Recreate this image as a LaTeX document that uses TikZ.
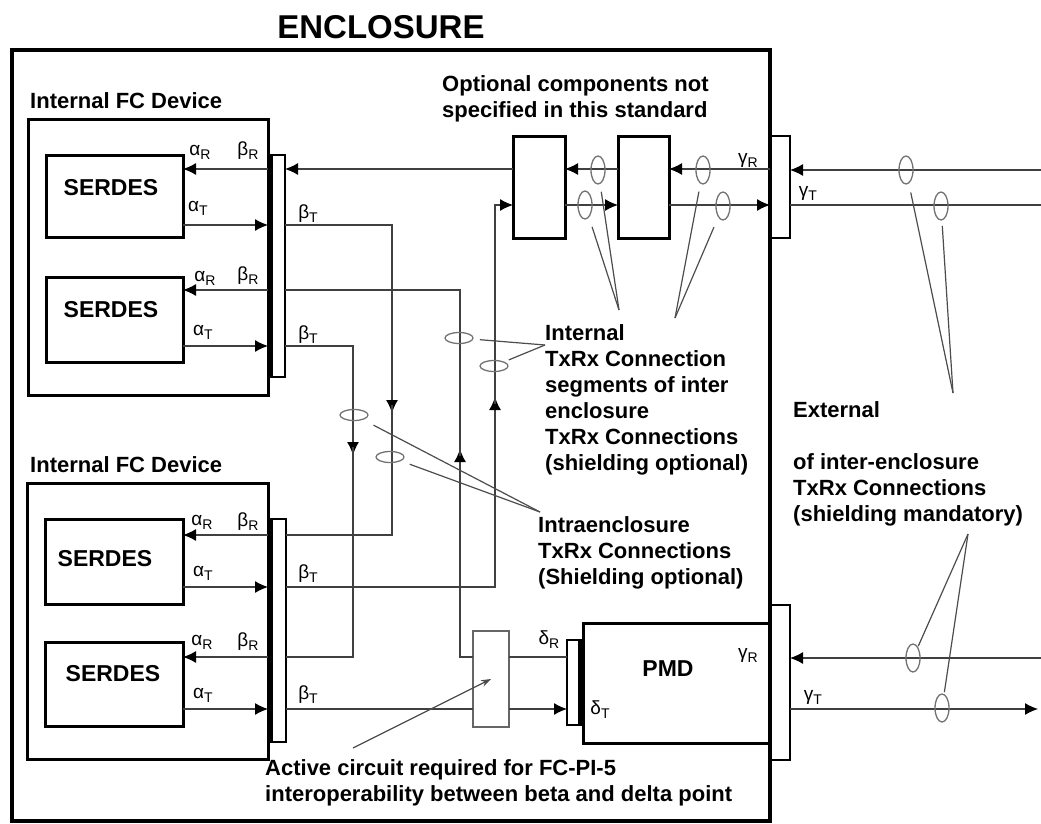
\documentclass[tikz,border=0pt]{standalone}
\usepackage{fontspec}
\setmainfont{Liberation Sans}
\usetikzlibrary{arrows.meta,shapes.geometric}

\tikzset{
  blk/.style={draw, line width=3pt, fill=white, inner sep=0pt, outer sep=0pt, anchor=north west},
  bar/.style={draw, line width=2pt, fill=white, inner sep=0pt, outer sep=0pt, anchor=north west},
  wire/.style={draw=black!75, line width=1.2pt},
  ovh/.style={draw=black!55, line width=1.3pt, ellipse, minimum width=28pt, minimum height=11pt, inner sep=0pt},
  ovv/.style={draw=black!55, line width=1.3pt, ellipse, minimum width=14pt, minimum height=28pt, inner sep=0pt},
  ptr/.style={draw=black!70, line width=1.2pt},
  lbl/.style={font=\bfseries\fontsize{22}{26}\selectfont, align=left, anchor=west, inner sep=0pt},
  boxtxt/.style={font=\bfseries\fontsize{23}{23}\selectfont, inner sep=0pt},
  sig/.style={font=\fontsize{19}{19}\selectfont, inner sep=0pt},
}
\newcommand{\sg}[2]{#1\raisebox{-4pt}{\fontsize{14}{14}\selectfont #2}}

\begin{document}
\begin{tikzpicture}[x=1pt,y=-1pt,>={Latex[length=13pt,width=12pt,black]}]
  \useasboundingbox (0,0) rectangle (1041,824);
  \node[font=\bfseries\fontsize{33}{33}\selectfont] (title) at (381,27) {ENCLOSURE};

  % devices and their blocks
  \node[blk, minimum width=240pt, minimum height=275pt] (dev1) at (28,120) {};
  \node[blk, minimum width=241pt, minimum height=276pt] (dev2) at (27,483) {};
  \node[blk, minimum width=137pt, minimum height=82pt] (ser11) at (46,155) {};
  \node[blk, minimum width=137pt, minimum height=85pt] (ser12) at (46,277) {};
  \node[blk, minimum width=138pt, minimum height=85pt] (ser21) at (45,519) {};
  \node[blk, minimum width=138pt, minimum height=84pt] (ser22) at (45,642) {};
  \node[bar, minimum width=17pt, minimum height=222pt] (bar1) at (268,155) {};
  \node[bar, minimum width=18pt, minimum height=223pt] (bar2) at (268,519) {};
  \node[blk, minimum width=52pt, minimum height=101pt] (opt1) at (513,137) {};
  \node[blk, minimum width=51pt, minimum height=101pt] (opt2) at (618,137) {};
  \node[blk, minimum width=187pt, minimum height=120pt] (pmd) at (583,623) {};
  \node[bar, minimum width=16pt, minimum height=85pt] (dbar) at (567,640) {};
  \node[bar, minimum width=20pt, minimum height=102pt] (ebar1) at (770,136) {};
  \node[bar, minimum width=20pt, minimum height=155pt] (ebar2) at (770,605) {};
  \node[draw=black!60, line width=1.3pt, fill=white, inner sep=0pt, outer sep=0pt,
        anchor=north west, minimum width=36pt, minimum height=96pt] (act) at (473,631) {};
  \node[draw, line width=4.5pt, inner sep=0pt, outer sep=0pt, anchor=north west,
        minimum width=758pt, minimum height=771pt] (encl) at (12,50) {};
  \fill (bar1.north west) rectangle ([xshift=5pt]bar1.south west);
  \fill (bar2.north west) rectangle ([xshift=5pt]bar2.south west);
  \fill ([xshift=-5pt]dbar.north east) rectangle (dbar.south east);

  % serdes to bars
  \draw[wire,->] (bar1.west |- 0,169) -- (ser11.east |- 0,169);
  \draw[wire,->] (ser11.east |- 0,225) -- (bar1.west |- 0,225);
  \draw[wire,->] (bar1.west |- 0,290) -- (ser12.east |- 0,290);
  \draw[wire,->] (ser12.east |- 0,346) -- (bar1.west |- 0,346);
  \draw[wire,->] (bar2.west |- 0,535) -- (ser21.east |- 0,535);
  \draw[wire,->] (ser21.east |- 0,587) -- (bar2.west |- 0,587);
  \draw[wire,->] (bar2.west |- 0,657) -- (ser22.east |- 0,657);
  \draw[wire,->] (ser22.east |- 0,709) -- (bar2.west |- 0,709);

  % links inside the enclosure
  \draw[wire,->] (opt1.west |- 0,169) -- (bar1.east |- 0,169);
  \draw[wire,->] (bar1.east |- 0,225) -| (392,413);
  \draw[wire] (392,405) |- (bar2.east |- 0,535);
  \draw[wire,->] (act.west |- 0,657) -| (460,449);
  \draw[wire] (460,456) |- (bar1.east |- 0,290);
  \draw[wire,->] (bar1.east |- 0,346) -| (353,455);
  \draw[wire] (353,447) |- (bar2.east |- 0,657);
  \draw[wire,->] (bar2.east |- 0,587) -| (495,397);
  \draw[wire,->] (495,404) |- (opt1.west |- 0,205);
  \draw[wire] (bar2.east |- 0,709) -- (act.west |- 0,709);
  \draw[wire,->] (act.east |- 0,709) -- (dbar.west |- 0,709);
  \draw[wire] (dbar.west |- 0,657) -- (act.east |- 0,657);
  \draw[wire,->] (ebar1.west |- 0,169) -- (opt2.east |- 0,169);
  \draw[wire,->] (opt2.west |- 0,169) -- (opt1.east |- 0,169);
  \draw[wire,->] (opt1.east |- 0,205) -- (opt2.west |- 0,205);
  \draw[wire,->] (opt2.east |- 0,205) -- (ebar1.west |- 0,205);

  % external links
  \coordinate (xr1) at (1041,170);
  \coordinate (xt1) at (1041,205);
  \coordinate (xr2) at (1041,658);
  \coordinate (xt2) at (1038,709);
  \draw[wire,->] (xr1) -- (ebar1.east |- xr1);
  \draw[wire] (ebar1.east |- xt1) -- (xt1);
  \draw[wire,->] (xr2) -- (ebar2.east |- xr2);
  \draw[wire,->] (ebar2.east |- xt2) -- (xt2);

  % shield ovals
  \node[ovh] (e1) at (354,415) {};
  \node[ovh] (e2) at (390,457) {};
  \node[ovh] (e3) at (459,338) {};
  \node[ovh] (e4) at (494,366) {};
  \node[ovv] (e5) at (598,170) {};
  \node[ovv] (e6) at (585,205) {};
  \node[ovv] (e7) at (703,170) {};
  \node[ovv] (e8) at (723,206) {};
  \node[ovv] (e9) at (906,170) {};
  \node[ovv] (e10) at (941,206) {};
  \node[ovv] (e11) at (913,658) {};
  \node[ovv] (e12) at (942,708) {};

  % pointer lines
  \coordinate (pIntra) at (540,512);
  \coordinate (pInt) at (545,345);
  \coordinate (pOpt1) at (619,310);
  \coordinate (pOpt2) at (675,318);
  \coordinate (pExt1) at (953,393);
  \coordinate (pExt2) at (968,534);
  \coordinate (pAct) at (353,748);
  \draw[ptr, shorten >=22pt] (pIntra) -- (e1.center);
  \draw[ptr, shorten >=21pt] (pIntra) -- (e2.center);
  \draw[ptr, shorten >=21pt] (pInt) -- (e3.center);
  \draw[ptr, shorten >=16pt] (pInt) -- (e4.center);
  \draw[ptr, shorten >=22pt] (pOpt1) -- (e5.center);
  \draw[ptr, shorten >=23pt] (pOpt1) -- (e6.center);
  \draw[ptr, shorten >=22pt] (pOpt2) -- (e7.center);
  \draw[ptr, shorten >=23pt] (pOpt2) -- (e8.center);
  \draw[ptr, shorten >=23pt] (pExt1) -- (e9.center);
  \draw[ptr, shorten >=20pt] (pExt1) -- (e10.center);
  \draw[ptr, shorten >=13pt] (pExt2) -- (e11.center);
  \draw[ptr, shorten >=16pt] (pExt2) -- (e12.center);
  \draw[ptr, -{Stealth[length=10pt,width=7pt]}] (pAct) -- (act.center);

  % block texts
  \node[lbl] (dev1lbl) at (30,101) {Internal FC Device};
  \node[lbl] (dev2lbl) at (30,465) {Internal FC Device};
  \node[boxtxt] (t11) at (111,188) {SERDES};
  \node[boxtxt] (t12) at (111,310) {SERDES};
  \node[boxtxt] (t21) at (105,559) {SERDES};
  \node[boxtxt] (t22) at (113,674) {SERDES};
  \node[boxtxt] (tpmd) at (668,669) {PMD};

  % signal names
  \node[sig] at (200,152) {\sg{α}{R}};
  \node[sig] at (248,151) {\sg{β}{R}};
  \node[sig] at (198,208) {\sg{α}{T}};
  \node[sig] at (308,214) {\sg{β}{T}};
  \node[sig] at (205,278) {\sg{α}{R}};
  \node[sig] at (248,276) {\sg{β}{R}};
  \node[sig] at (203,332) {\sg{α}{T}};
  \node[sig] at (308,335) {\sg{β}{T}};
  \node[sig] at (202,522) {\sg{α}{R}};
  \node[sig] at (248,522) {\sg{β}{R}};
  \node[sig] at (203,573) {\sg{α}{T}};
  \node[sig] at (308,574) {\sg{β}{T}};
  \node[sig] at (202,642) {\sg{α}{R}};
  \node[sig] at (248,642) {\sg{β}{R}};
  \node[sig] at (203,695) {\sg{α}{T}};
  \node[sig] at (308,695) {\sg{β}{T}};
  \node[sig] at (748,160) {\sg{γ}{R}};
  \node[sig] at (808,193) {\sg{γ}{T}};
  \node[sig] at (549,640) {\sg{δ}{R}};
  \node[sig] at (600,710) {\sg{δ}{T}};
  \node[sig] at (748,655) {\sg{γ}{R}};
  \node[sig] at (813,697) {\sg{γ}{T}};

  % notes
  \node[lbl] (optnote) at (442,99) {Optional components not\\specified in this standard};
  \node[lbl] (intnote) at (545,400) {Internal\\TxRx Connection\\segments of inter\\enclosure\\TxRx Connections\\(shielding optional)};
  \node[lbl] (intranote) at (538,553) {Intraenclosure\\TxRx Connections\\(Shielding optional)};
  \node[lbl] (extnote) at (793,464) {External\\[26pt]of inter-enclosure\\TxRx Connections\\(shielding mandatory)};
  \node[lbl] (actnote) at (265,783) {Active circuit required for FC-PI-5\\interoperability between beta and delta point};
\end{tikzpicture}
\end{document}
